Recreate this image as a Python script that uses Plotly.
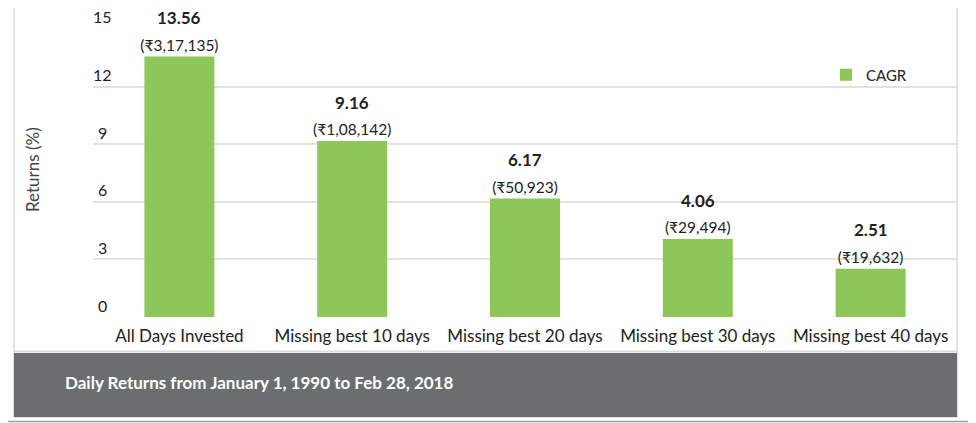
import plotly.graph_objects as go

categories = ["All Days Invested", "Missing best 10 days", "Missing best 20 days",
              "Missing best 30 days", "Missing best 40 days"]
cagr = [13.56, 9.16, 6.17, 4.06, 2.51]
amounts = ["₹3,17,135", "₹1,08,142", "₹50,923", "₹29,494", "₹19,632"]
tick_vals = [0, 3, 6, 9, 12, 15]

FONT = "Lato, Noto Sans, sans-serif"

# the page body adds an 8px margin, so the figure is drawn 8px smaller
# plot area on screen: x 93..957, y 28..318
def px(x):
    return (x - 93) / 864.0

def py(y):
    return (318 - y) / 290.0

fig = go.Figure()
fig.add_trace(go.Bar(
    x=categories, y=cagr, name="CAGR",
    marker=dict(color="#8dc75a", line=dict(width=0)),
    width=0.405,
    text=["({})".format(a) for a in amounts], textposition="outside",
    textfont=dict(size=15.5, color="#222222", family=FONT),
    constraintext="none", cliponaxis=False,
))

shapes = [
    # outer frame
    dict(type="rect", xref="paper", yref="paper", x0=px(14), x1=px(957), y0=py(417), y1=py(-4),
         line=dict(color="#e2e4e4", width=2), fillcolor="rgba(0,0,0,0)", layer="below"),
    # footer band
    dict(type="rect", xref="paper", yref="paper", x0=px(14), x1=px(957), y0=py(417), y1=py(353),
         line=dict(width=0), fillcolor="#6b6e6f"),
    dict(type="line", xref="paper", yref="paper", x0=px(14), x1=px(957), y0=py(351.5), y1=py(351.5),
         line=dict(color="#d9dbdb", width=2)),
    # bottom rule
    dict(type="line", xref="paper", yref="paper", x0=px(0), x1=px(976), y0=py(421.5), y1=py(421.5),
         line=dict(color="#9c9c9c", width=1.5)),
]

annotations = [
    dict(text="Returns (%)", xref="paper", yref="paper", x=px(32), y=py(170), textangle=-90,
         xanchor="center", yanchor="middle",
         showarrow=False, font=dict(size=17, color="#444444", family=FONT)),
    dict(text="<b>Daily Returns from January 1, 1990 to Feb 28, 2018</b>", xref="paper", yref="paper",
         x=px(63), y=py(382), xanchor="left", yanchor="middle", showarrow=False,
         font=dict(size=17, color="#ffffff", family=FONT)),
]
# bold CAGR values above the amounts
for c, v in zip(categories, cagr):
    annotations.append(dict(text="<b>{:.2f}</b>".format(v), x=c, y=v, xref="x", yref="y",
                            xanchor="center", yanchor="middle", yshift=39, showarrow=False,
                            font=dict(size=17, color="#222222", family=FONT)))
# y tick labels sit above their gridlines
for t in tick_vals:
    annotations.append(dict(text=str(t), x=px(102), y=t, xref="paper", yref="y",
                            xanchor="center", yanchor="middle", yshift=12, showarrow=False,
                            font=dict(size=16, color="#222222", family=FONT)))

fig.update_layout(
    width=968, height=415,
    margin=dict(l=85, r=19, t=20, b=105),
    paper_bgcolor="white", plot_bgcolor="white",
    font=dict(family=FONT, color="#222222"),
    showlegend=True,
    legend=dict(x=px(826), y=py(75), xanchor="left", yanchor="middle",
                font=dict(size=15, color="#222222", family=FONT), bgcolor="rgba(0,0,0,0)"),
    shapes=shapes,
    annotations=annotations,
    xaxis=dict(range=[-0.5, 4.5], automargin=False, showgrid=False, showline=False, zeroline=False,
               ticks="outside", ticklen=3, tickcolor="rgba(0,0,0,0)",
               tickfont=dict(size=17, color="#222222", family=FONT)),
    yaxis=dict(range=[-0.05, 15.05], automargin=False, tickvals=tick_vals, showticklabels=False,
               showgrid=True, gridcolor="#e2e2e2", gridwidth=1.5,
               zeroline=False, showline=False, ticks=""),
)

fig.write_html("out.html")
